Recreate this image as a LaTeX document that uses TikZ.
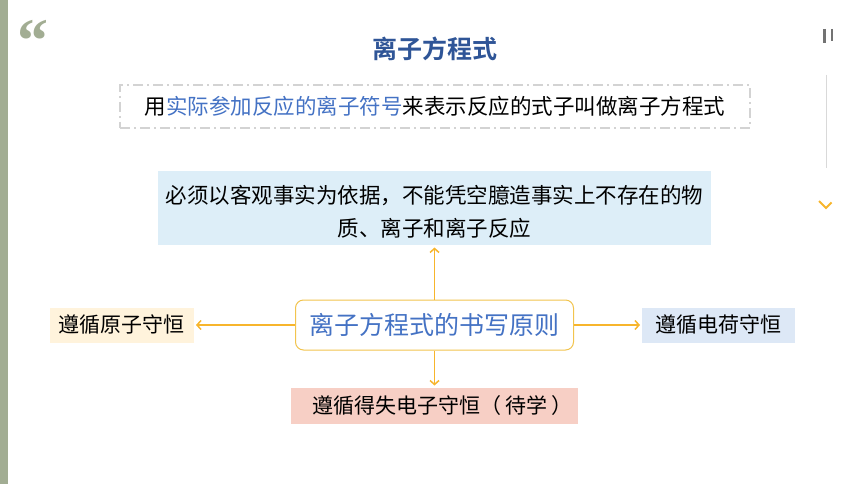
\documentclass[tikz,border=0pt]{standalone}
\usepackage{fontspec}
\setmainfont{Noto Sans CJK SC}[BoldFont={Noto Sans CJK SC Bold}]
\newfontfamily\quotefont{Liberation Serif}
\usetikzlibrary{positioning,arrows.meta}
\definecolor{barcol}{HTML}{A2AD93}
\definecolor{titleblue}{HTML}{2F5597}
\definecolor{textblue}{HTML}{4472C4}
\definecolor{dashgray}{HTML}{D3D3D3}
\definecolor{factfill}{HTML}{DDEEF8}
\definecolor{atomfill}{HTML}{FFF3DC}
\definecolor{chargefill}{HTML}{DDE8F6}
\definecolor{elecfill}{HTML}{F7CFC5}
\definecolor{ruleline}{HTML}{F2C44E}
\definecolor{arrowgold}{HTML}{F7B52C}
\begin{document}
\begin{tikzpicture}[x=1pt,y=-1pt,shorten >=2pt,
	box/.style={inner sep=0pt,font=\fontsize{21}{25}\selectfont},
	rulebox/.style={draw=ruleline,line width=1pt,rounded corners=8pt,fill=white,
		minimum width=278pt,minimum height=50pt,text=textblue,
		font=\fontsize{25}{28}\selectfont}]
		\useasboundingbox (0,0) rectangle (860,484);
		\fill[barcol] (0,0) rectangle (8,484);
		\node[text=barcol,font=\quotefont\bfseries\fontsize{62}{62}\selectfont] (quote) at (33,41) {\textquotedblleft};
		\node[text=titleblue,font=\bfseries\fontsize{25}{28}\selectfont] (title) at (435,49) {离子方程式};
		\node[box,draw=dashgray,line width=1.3pt,dash pattern=on 10pt off 4pt on 2pt off 4pt,
		minimum width=630pt,minimum height=43pt,font=\fontsize{21.5}{25}\selectfont] (def) at (435,106.5)
		{用\textcolor{textblue}{实际参加反应的离子符号}来表示反应的式子叫做离子方程式};
		\node[rulebox] (rule) at (434.5,325) {离子方程式的书写原则};
		\node[box,fill=factfill,minimum width=553pt,minimum height=74pt,align=center,
		font=\fontsize{21.5}{33}\selectfont] (fact) [above=54pt of rule]
		{\rule{0pt}{26pt}必须以客观事实为依据，不能凭空臆造事实上不存在的物\\质、离子和离子反应};
		\node[box,fill=atomfill,minimum width=144pt,minimum height=35pt] (atom) [left=101pt of rule] {遵循原子守恒};
		\node[box,fill=chargefill,minimum width=153pt,minimum height=35pt] (charge) [right=68pt of rule] {遵循电荷守恒};
		\node[box,fill=elecfill,minimum width=287pt,minimum height=36pt] (elec) [below=37pt of rule]
		{\hspace{16pt}遵循得失电子守恒（\hspace{4pt}待学\hspace{4pt}）};
		\path[-{Straight Barb[length=4pt,width=9pt]},draw=arrowgold,line width=1.5pt] 
		(rule) edge (fact)
		edge (atom)
		edge (charge)
		edge (elec);
		% side controls
		\draw[gray!90!black,line width=2.5pt] (824.5,29) -- (824.5,43) (832,29) -- (832,43);
		\draw[gray!30,line width=1pt] (826,75) -- (826,170);
		\draw[arrowgold,line width=2pt] (819,201) -- (826,208) -- (833,201);
		\end{tikzpicture}
\end{document}
